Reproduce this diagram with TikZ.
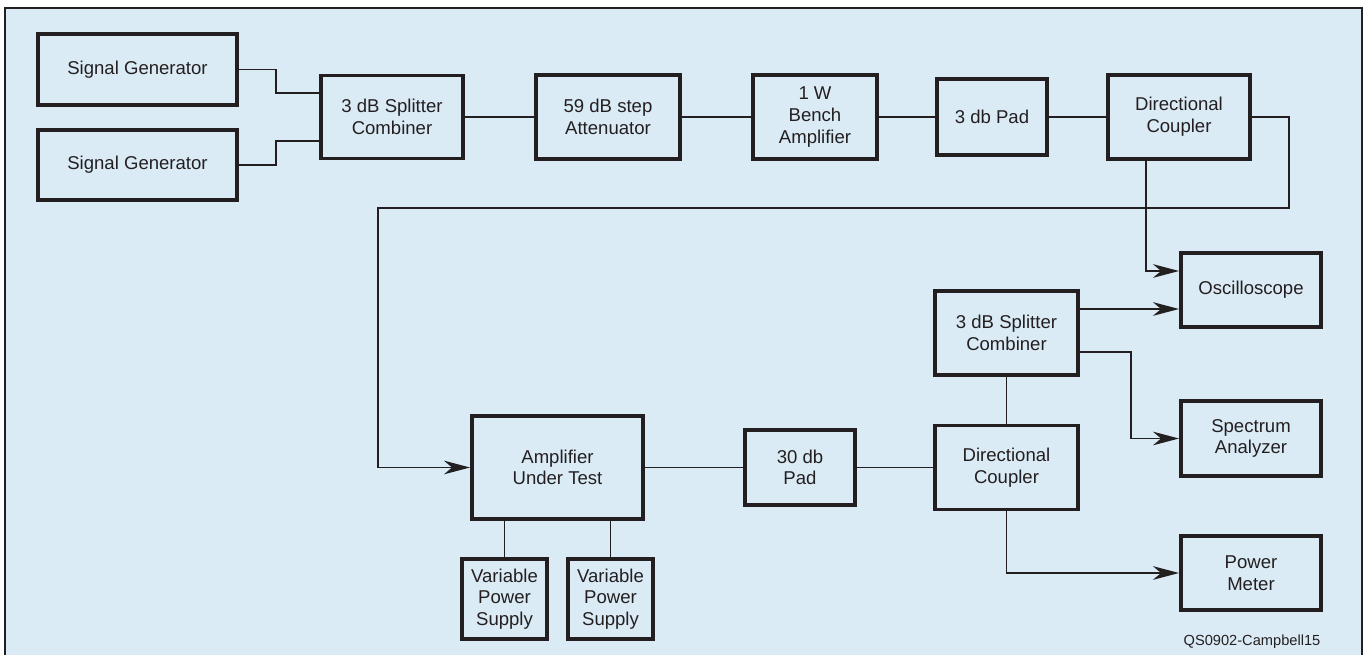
\documentclass[tikz,border=0pt]{standalone}
\usepackage{fontspec}
\setmainfont{Liberation Sans}
\usetikzlibrary{arrows.meta,calc}
\definecolor{bgblue}{RGB}{219,235,246}
\definecolor{ink}{RGB}{35,31,32}

\begin{document}
\begin{tikzpicture}[x=0.025cm,y=-0.025cm,
		font=\fontsize{13.2}{15.4}\selectfont,
		blk/.style={draw=ink,line width=2.8pt,fill=bgblue,text=ink,align=center,inner sep=2pt},
		sz/.style 2 args={minimum width=#1*0.025cm,minimum height=#2*0.025cm},
		wire/.style={draw=ink,line width=1.4pt},
		arr/.style={wire,-{Stealth[length=6.5mm,width=3.4mm,inset=2mm]}}]

		\path[use as bounding box,clip] (0,0) rectangle (1370,655);
		\fill[white] (0,0) rectangle (1370,655);
		\draw[draw=ink,fill=bgblue,line width=2pt] (5,8) rectangle (1362,680);

		% top row
		\node[blk,sz={199}{71}] (sg1) at (137.5,69.5) {Signal Generator};
		\node[blk,sz={199}{70}] (sg2) at (137.5,165) {Signal Generator};
		\node[blk,sz={142}{83}] (spl1) at (392,117) {3 dB Splitter\\Combiner};
		\node[blk,sz={144}{84}] (att) at (608,117) {59 dB step\\Attenuator};
		\node[blk,sz={124}{84}] (amp) at (815,117) {1 W\\Bench\\Amplifier};
		\node[blk,sz={110}{76}] (pad3) at (992,117) {3 db Pad};
		\node[blk,sz={142}{84}] (dc1) at (1179,117) {Directional\\Coupler};

		% measuring side
		\node[blk,sz={140}{74}] (osc) at (1251,290) {Oscilloscope};
		\node[blk,sz={143}{84}] (spl2) at (1006.5,333) {3 dB Splitter\\Combiner};
		\node[blk,sz={140}{75}] (spec) at (1251,438.5) {Spectrum\\Analyzer};
		\node[blk,sz={143}{84}] (dc2) at (1006.5,467.5) {Directional\\Coupler};
		\node[blk,sz={140}{74}] (pm) at (1251,573) {Power\\Meter};

		% device under test
		\node[blk,sz={171}{103}] (aut) at (557.5,467.5) {Amplifier\\Under Test};
		\node[blk,sz={110}{75}] (pad30) at (800,467.5) {30 db\\Pad};
		\node[blk,sz={85}{80}] (vps1) at (504.5,599) {Variable\\Power\\Supply};
		\node[blk,sz={85}{80}] (vps2) at (610.5,599) {Variable\\Power\\Supply};

		\node[text=ink,font=\fontsize{10.4}{12}\selectfont] (tag) at (1252,642) {QS0902-Campbell15};

		\coordinate (turnR) at (1289,208);
		\coordinate (turnL) at (378,208);

		\draw[wire] (sg1.east) -- ++(37,0) |- ($(spl1.west)+(0,-24)$);
		\draw[wire] (sg2.east) -- ++(37,0) |- ($(spl1.west)+(0,24)$);
		\draw[wire] (spl1.east) -- (att.west);
		\draw[wire] (att.east) -- (amp.west);
		\draw[wire] (amp.east) -- (pad3.west);
		\draw[wire] (pad3.east) -- (dc1.west);

		\draw[arr] (dc1.east) -| (turnR) -- (turnL) |- (aut.west);
		\draw[arr] ($(dc1.south)+(-33,0)$) |- ($(osc.west)+(0,-19)$);
		\draw[arr] ($(spl2.east)+(0,-24)$) -- ($(osc.west)+(0,19)$);
		\draw[arr] ($(spl2.east)+(0,19)$) -- ++(51,0) |- (spec.west);
		\draw[wire] (spl2.south) -- (dc2.north);
		\draw[arr] (dc2.south) |- (pm.west);

		\draw[wire] (aut.east) -- (pad30.west);
		\draw[wire] (pad30.east) -- (dc2.west);
		\draw[wire] (vps1.north |- aut.south) -- (vps1.north);
		\draw[wire] (vps2.north |- aut.south) -- (vps2.north);

	\end{tikzpicture}
\end{document}
